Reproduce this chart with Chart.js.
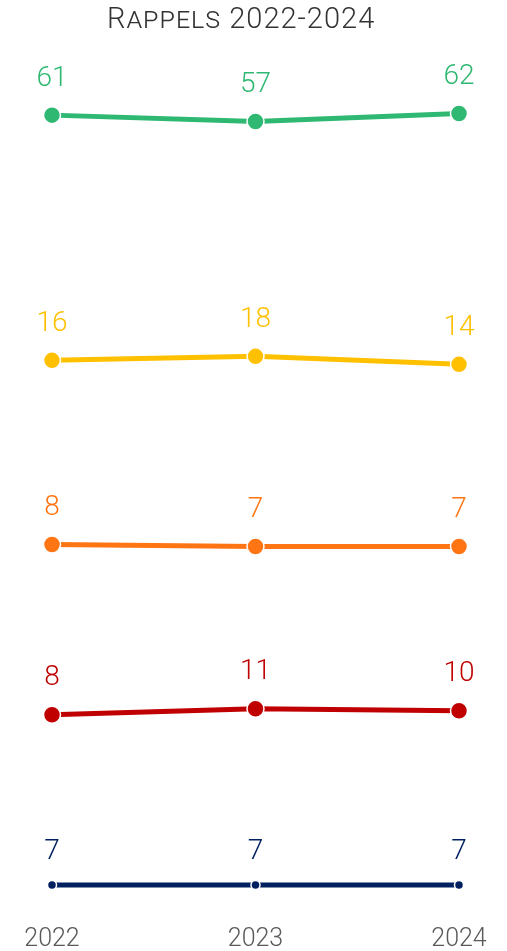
<!DOCTYPE html>
<html>
<head>
<meta charset="utf-8">
<script src="https://cdn.jsdelivr.net/npm/chart.js@4.4.1/dist/chart.umd.min.js"></script>
<style>
  html, body { margin: 0; padding: 0; background: #fff; }
  #wrap { position: relative; width: 507px; height: 951px; }
  #title {
    position: absolute; left: 107px; top: 1px; white-space: nowrap;
    font-family: Roboto, sans-serif; font-weight: 300;
    font-variant: small-caps; font-size: 29px; line-height: 34px;
    letter-spacing: 1px; color: #333;
  }
</style>
</head>
<body>
<div id="wrap">
  <canvas id="mycanvas" width="507" height="951"></canvas>
  <div id="title">Rappels 2022-2024</div>
</div>
<script>
var years = ['2022', '2023', '2024'];
var greenVals = [61, 57, 62];
var yellowVals = [16, 18, 14];
var orangeVals = [8, 7, 7];
var redVals = [8, 11, 10];
var navyVals = [7, 7, 7];

// each series gets its own hidden y axis so the rows sit one above the other
function row(data, color, axis, radius) {
	return {
		data: data,
		yAxisID: axis,
		borderColor: color,
		backgroundColor: color,
		borderWidth: 5,
		pointRadius: radius,
		pointHoverRadius: radius,
		pointBackgroundColor: color,
		pointBorderColor: '#fff',
		pointBorderWidth: 1.5,
		clip: false
	};
}

function hiddenAxis(min, max) {
	return { type: 'linear', display: false, min: min, max: max };
}

var labelPlugin = {
	id: 'valueLabels',
	afterDatasetsDraw: function(chart) {
		var ctx = chart.ctx;
		ctx.save();
		ctx.font = "300 28px Roboto, sans-serif";
		ctx.textAlign = 'center';
		ctx.textBaseline = 'alphabetic';
		chart.data.datasets.forEach(function(ds, i) {
			var meta = chart.getDatasetMeta(i);
			meta.data.forEach(function(pt, j) {
				ctx.fillStyle = ds.borderColor;
				ctx.fillText(ds.data[j], pt.x, pt.y - ds.pointRadius - 21);
			});
		});
		ctx.restore();
	}
};

var ctx = document.getElementById('mycanvas');
var chart = new Chart(ctx, {
	type: 'line',
	data: {
		labels: years,
		datasets: [
			row(greenVals, '#2eb872', 'yGreen', 8.5),
			row(yellowVals, '#ffc000', 'yYellow', 8.5),
			row(orangeVals, '#ff7514', 'yOrange', 8.5),
			row(redVals, '#c00000', 'yRed', 8.5),
			row(navyVals, '#002060', 'yNavy', 4.5)
		]
	},
	options: {
		responsive: false,
		animation: false,
		layout: { padding: { left: 52, right: 48, top: 40, bottom: -15 } },
		plugins: { legend: { display: false }, tooltip: { enabled: false } },
		scales: {
			x: {
				type: 'category',
				offset: false,
				grid: { display: false, drawTicks: false },
				border: { display: false },
				ticks: {
					padding: 14,
					color: '#595959',
					font: { family: 'Roboto', weight: '300', size: 25, lineHeight: 1 }
				}
			},
			yGreen: hiddenAxis(-437.1, 107.9),
			yYellow: hiddenAxis(-260, 176),
			yOrange: hiddenAxis(-176, 260),
			yRed: hiddenAxis(-91, 345),
			yNavy: hiddenAxis(-7, 429)
		}
	},
	plugins: [labelPlugin]
});
</script>
</body>
</html>
